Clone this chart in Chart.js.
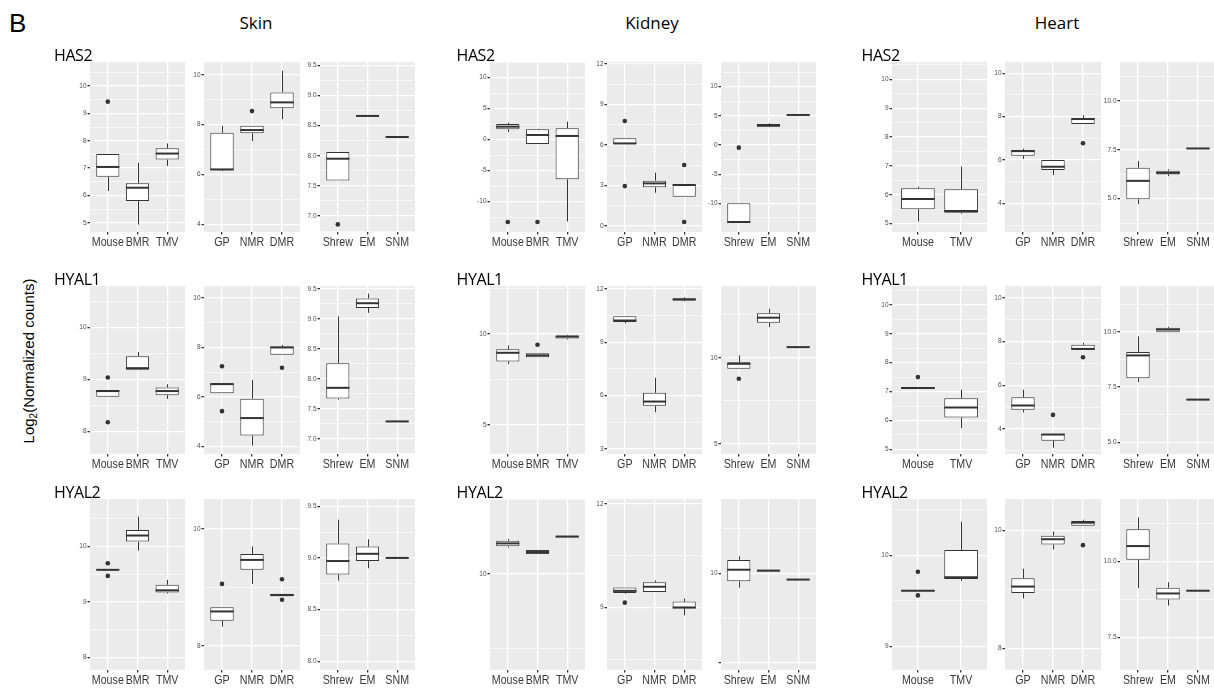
<!DOCTYPE html>
<html>
<head>
<meta charset="utf-8">
<script src="https://cdn.jsdelivr.net/npm/chart.js@4.4.1/dist/chart.umd.min.js"></script>
<style>
  html, body { margin: 0; padding: 0; background: #ffffff; width: 1214px; height: 689px; overflow: hidden; }
  #root { position: relative; width: 1214px; height: 689px; }
  .pw { position: absolute; }
  .pw canvas { display: block; }
  .txt { position: absolute; white-space: nowrap; color: #000; line-height: 1; }
  .tissue { font-family: 'Open Sans', 'Noto Sans', sans-serif; font-size: 17px; transform: translateX(-50%); }
  .gene { font-family: 'Open Sans', 'Noto Sans', sans-serif; font-size: 16px; letter-spacing: -0.4px; }
  .ytitle { font-family: 'Liberation Sans', Arial, sans-serif; font-size: 15px; color: #000; transform: translate(-50%, -50%) rotate(-90deg); }
  .ytitle sub { font-size: 10px; vertical-align: -3px; line-height: 0; }
</style>
</head>
<body>
<div id="root">
  <div class="txt" style="left:9px; top:10px; font-family:'Liberation Sans', Arial, sans-serif; font-size:26px;">B</div>
  <div class="txt tissue" style="left:256px; top:14px;">Skin</div>
  <div class="txt tissue" style="left:652px; top:14px;">Kidney</div>
  <div class="txt tissue" style="left:1057px; top:14px;">Heart</div>
  <div class="txt ytitle" style="left:28px; top:361px;">Log<sub>2</sub>(Normalized counts)</div>
</div>
<script>
// ---------------- categories ----------------
const CATS_ROD   = ['Mouse', 'BMR', 'TMV'];
const CATS_MOLE  = ['GP', 'NMR', 'DMR'];
const CATS_SHREW = ['Shrew', 'EM', 'SNM'];
const CATS_HEART = ['Mouse', 'TMV'];

// box stats per category: [lowerWhisker, Q1, median, Q3, upperWhisker]
// ---------------- Skin · HAS2 ----------------
const SK_HAS2_A_BOX = [[6.16, 6.68, 7.04, 7.51, 7.51], [4.93, 5.79, 6.28, 6.44, 7.19], [7.08, 7.31, 7.53, 7.72, 7.90]];
const SK_HAS2_A_OUT = [['Mouse', 9.43]];
const SK_HAS2_A_TICKS = [5, 6, 7, 8, 9, 10];
const SK_HAS2_A_LABELS = ['5', '6', '7', '8', '9', '10'];
const SK_HAS2_A_RANGE = [4.66, 10.88];

const SK_HAS2_B_BOX = [[6.13, 6.17, 6.20, 7.67, 7.94], [7.34, 7.65, 7.78, 7.95, 7.95], [8.22, 8.65, 8.89, 9.29, 10.16]];
const SK_HAS2_B_OUT = [['NMR', 8.54]];
const SK_HAS2_B_TICKS = [4, 6, 8, 10];
const SK_HAS2_B_LABELS = ['4', '6', '8', '10'];
const SK_HAS2_B_RANGE = [3.69, 10.51];

const SK_HAS2_C_BOX = [[7.59, 7.59, 7.95, 8.06, 8.06], [8.66, 8.66, 8.66, 8.66, 8.66], [8.31, 8.31, 8.31, 8.31, 8.31]];
const SK_HAS2_C_OUT = [['Shrew', 6.86]];
const SK_HAS2_C_TICKS = [7.0, 7.5, 8.0, 8.5, 9.0, 9.5];
const SK_HAS2_C_LABELS = ['7.0', '7.5', '8.0', '8.5', '9.0', '9.5'];
const SK_HAS2_C_RANGE = [6.734, 9.555];

// ---------------- Kidney · HAS2 ----------------
const KI_HAS2_A_BOX = [[1.24, 1.68, 2.10, 2.53, 2.74], [-0.70, -0.70, 0.76, 1.68, 1.77], [-13.2, -6.39, 0.60, 1.84, 2.90]];
const KI_HAS2_A_OUT = [['Mouse', -13.27], ['BMR', -13.27]];
const KI_HAS2_A_TICKS = [-10, -5, 0, 5, 10];
const KI_HAS2_A_LABELS = ['-10', '-5', '0', '5', '10'];
const KI_HAS2_A_RANGE = [-14.89, 12.53];

const KI_HAS2_B_BOX = [[6.07, 6.07, 6.12, 6.50, 6.50], [2.47, 2.87, 3.16, 3.36, 3.95], [2.17, 2.17, 3.04, 3.09, 3.09]];
const KI_HAS2_B_OUT = [['GP', 7.78], ['GP', 2.96], ['DMR', 4.52], ['DMR', 0.30]];
const KI_HAS2_B_TICKS = [0, 3, 6, 9, 12];
const KI_HAS2_B_LABELS = ['0', '3', '6', '9', '12'];
const KI_HAS2_B_RANGE = [-0.44, 12.15];

const KI_HAS2_C_BOX = [[-13.2, -13.2, -13.2, -10.0, -10.0], [3.05, 3.15, 3.35, 3.60, 3.70], [5.15, 5.15, 5.15, 5.15, 5.15]];
const KI_HAS2_C_OUT = [['Shrew', -0.45]];
const KI_HAS2_C_TICKS = [-10, -5, 0, 5, 10];
const KI_HAS2_C_LABELS = ['-10', '-5', '0', '5', '10'];
const KI_HAS2_C_RANGE = [-14.91, 14.23];

// ---------------- Heart · HAS2 ----------------
const HE_HAS2_A_BOX = [[5.07, 5.50, 5.85, 6.23, 6.28], [5.34, 5.38, 5.44, 6.19, 6.98]];
const HE_HAS2_A_OUT = [];
const HE_HAS2_A_TICKS = [5, 6, 7, 8, 9, 10];
const HE_HAS2_A_LABELS = ['5', '6', '7', '8', '9', '10'];
const HE_HAS2_A_RANGE = [4.71, 10.60];

const HE_HAS2_B_BOX = [[6.05, 6.20, 6.41, 6.46, 6.52], [5.31, 5.54, 5.69, 6.00, 6.00], [7.66, 7.66, 7.89, 7.92, 8.06]];
const HE_HAS2_B_OUT = [['DMR', 6.77]];
const HE_HAS2_B_TICKS = [4, 6, 8, 10];
const HE_HAS2_B_LABELS = ['4', '6', '8', '10'];
const HE_HAS2_B_RANGE = [2.68, 10.52];

const HE_HAS2_C_BOX = [[4.72, 4.97, 5.91, 6.58, 6.92], [6.15, 6.24, 6.32, 6.43, 6.50], [7.57, 7.57, 7.57, 7.57, 7.57]];
const HE_HAS2_C_OUT = [];
const HE_HAS2_C_TICKS = [5.0, 7.5, 10.0];
const HE_HAS2_C_LABELS = ['5.0', '7.5', '10.0'];
const HE_HAS2_C_RANGE = [3.29, 12.00];

// ---------------- Skin · HYAL1 ----------------
const SK_HYAL1_A_BOX = [[8.67, 8.67, 8.78, 8.80, 8.80], [9.19, 9.19, 9.22, 9.45, 9.53], [8.63, 8.70, 8.78, 8.85, 8.91]];
const SK_HYAL1_A_OUT = [['Mouse', 9.04], ['Mouse', 8.18]];
const SK_HYAL1_A_TICKS = [8, 9, 10];
const SK_HYAL1_A_LABELS = ['8', '9', '10'];
const SK_HYAL1_A_RANGE = [7.57, 10.80];

const SK_HYAL1_B_BOX = [[6.15, 6.15, 6.52, 6.56, 6.56], [4.04, 4.45, 5.15, 5.93, 6.69], [7.71, 7.71, 8.00, 8.04, 8.10]];
const SK_HYAL1_B_OUT = [['GP', 7.24], ['GP', 5.43], ['DMR', 7.18]];
const SK_HYAL1_B_TICKS = [4, 6, 8, 10];
const SK_HYAL1_B_LABELS = ['4', '6', '8', '10'];
const SK_HYAL1_B_RANGE = [3.70, 10.48];

const SK_HYAL1_C_BOX = [[7.65, 7.67, 7.85, 8.26, 9.04], [9.10, 9.18, 9.26, 9.34, 9.42], [7.29, 7.29, 7.29, 7.29, 7.29]];
const SK_HYAL1_C_OUT = [];
const SK_HYAL1_C_TICKS = [7.0, 7.5, 8.0, 8.5, 9.0, 9.5];
const SK_HYAL1_C_LABELS = ['7.0', '7.5', '8.0', '8.5', '9.0', '9.5'];
const SK_HYAL1_C_RANGE = [6.747, 9.547];

// ---------------- Kidney · HYAL1 ----------------
const KI_HYAL1_A_BOX = [[8.35, 8.48, 8.96, 9.15, 9.36], [8.71, 8.71, 8.82, 8.93, 8.93], [9.69, 9.74, 9.85, 9.91, 9.95]];
const KI_HYAL1_A_OUT = [['BMR', 9.40]];
const KI_HYAL1_A_TICKS = [5, 10];
const KI_HYAL1_A_LABELS = ['5', '10'];
const KI_HYAL1_A_RANGE = [3.40, 12.63];

const KI_HYAL1_B_BOX = [[10.06, 10.14, 10.22, 10.46, 10.46], [5.06, 5.43, 5.66, 6.15, 6.99], [11.29, 11.34, 11.40, 11.47, 11.53]];
const KI_HYAL1_B_OUT = [];
const KI_HYAL1_B_TICKS = [3, 6, 9, 12];
const KI_HYAL1_B_LABELS = ['3', '6', '9', '12'];
const KI_HYAL1_B_RANGE = [2.71, 12.16];

const KI_HYAL1_C_BOX = [[9.36, 9.36, 9.65, 9.74, 10.13], [11.78, 12.03, 12.33, 12.59, 12.85], [10.62, 10.62, 10.62, 10.62, 10.62]];
const KI_HYAL1_C_OUT = [['Shrew', 8.78]];
const KI_HYAL1_C_TICKS = [5, 10];
const KI_HYAL1_C_LABELS = ['5', '10'];
const KI_HYAL1_C_RANGE = [4.41, 14.17];

// ---------------- Heart · HYAL1 ----------------
const HE_HYAL1_A_BOX = [[7.10, 7.10, 7.12, 7.15, 7.15], [5.74, 6.10, 6.45, 6.77, 7.06]];
const HE_HYAL1_A_OUT = [['Mouse', 7.50]];
const HE_HYAL1_A_TICKS = [5, 6, 7, 8, 9, 10];
const HE_HYAL1_A_LABELS = ['5', '6', '7', '8', '9', '10'];
const HE_HYAL1_A_RANGE = [4.84, 10.65];

const HE_HYAL1_B_BOX = [[4.76, 4.88, 5.07, 5.45, 5.79], [3.13, 3.46, 3.74, 3.77, 3.77], [7.62, 7.62, 7.66, 7.85, 7.94]];
const HE_HYAL1_B_OUT = [['NMR', 4.64], ['DMR', 7.28]];
const HE_HYAL1_B_TICKS = [4, 6, 8, 10];
const HE_HYAL1_B_LABELS = ['4', '6', '8', '10'];
const HE_HYAL1_B_RANGE = [2.85, 10.54];

const HE_HYAL1_C_BOX = [[7.72, 7.90, 8.93, 9.08, 9.79], [9.98, 9.98, 10.10, 10.18, 10.23], [6.93, 6.93, 6.93, 6.93, 6.93]];
const HE_HYAL1_C_OUT = [];
const HE_HYAL1_C_TICKS = [5.0, 7.5, 10.0];
const HE_HYAL1_C_LABELS = ['5.0', '7.5', '10.0'];
const HE_HYAL1_C_RANGE = [4.47, 12.07];

// ---------------- Skin · HYAL2 ----------------
const SK_HYAL2_A_BOX = [[9.58, 9.58, 9.58, 9.58, 9.58], [9.93, 10.09, 10.20, 10.30, 10.54], [9.15, 9.17, 9.21, 9.31, 9.40]];
const SK_HYAL2_A_OUT = [['Mouse', 9.70], ['Mouse', 9.47]];
const SK_HYAL2_A_TICKS = [8, 9, 10];
const SK_HYAL2_A_LABELS = ['8', '9', '10'];
const SK_HYAL2_A_RANGE = [7.77, 10.86];

const SK_HYAL2_B_BOX = [[8.33, 8.43, 8.59, 8.66, 8.66], [9.06, 9.30, 9.47, 9.57, 9.70], [8.85, 8.85, 8.87, 8.89, 8.89]];
const SK_HYAL2_B_OUT = [['GP', 9.06], ['DMR', 9.14], ['DMR', 8.79]];
const SK_HYAL2_B_TICKS = [8, 10];
const SK_HYAL2_B_LABELS = ['8', '10'];
const SK_HYAL2_B_RANGE = [7.59, 10.51];

const SK_HYAL2_C_BOX = [[8.78, 8.84, 8.97, 9.14, 9.37], [8.90, 8.97, 9.04, 9.11, 9.18], [9.00, 9.00, 9.00, 9.00, 9.00]];
const SK_HYAL2_C_OUT = [];
const SK_HYAL2_C_TICKS = [8.0, 8.5, 9.0, 9.5];
const SK_HYAL2_C_LABELS = ['8.0', '8.5', '9.0', '9.5'];
const SK_HYAL2_C_RANGE = [7.916, 9.57];

// ---------------- Kidney · HYAL2 ----------------
const KI_HYAL2_A_BOX = [[10.89, 10.93, 11.03, 11.12, 11.18], [10.67, 10.67, 10.74, 10.81, 10.81], [11.23, 11.23, 11.26, 11.28, 11.28]];
const KI_HYAL2_A_OUT = [];
const KI_HYAL2_A_TICKS = [5, 10, 15];
const KI_HYAL2_A_LABELS = ['5', '10', '15'];
const KI_HYAL2_A_RANGE = [6.78, 12.52];

const KI_HYAL2_B_BOX = [[9.40, 9.42, 9.48, 9.58, 9.58], [9.45, 9.45, 9.60, 9.73, 9.78], [8.77, 8.97, 9.00, 9.17, 9.26]];
const KI_HYAL2_B_OUT = [['GP', 9.14]];
const KI_HYAL2_B_TICKS = [6, 9, 12];
const KI_HYAL2_B_LABELS = ['6', '9', '12'];
const KI_HYAL2_B_RANGE = [7.19, 12.14];

const KI_HYAL2_C_BOX = [[9.84, 9.91, 10.04, 10.15, 10.19], [10.02, 10.02, 10.03, 10.04, 10.04], [9.93, 9.93, 9.93, 9.93, 9.93]];
const KI_HYAL2_C_OUT = [];
const KI_HYAL2_C_TICKS = [9, 10, 11];
const KI_HYAL2_C_LABELS = ['', '10', '11'];
const KI_HYAL2_C_RANGE = [8.92, 10.83];

// ---------------- Heart · HYAL2 ----------------
const HE_HYAL2_A_BOX = [[9.61, 9.61, 9.61, 9.61, 9.61], [9.72, 9.74, 9.76, 10.06, 10.37]];
const HE_HYAL2_A_OUT = [['Mouse', 9.82], ['Mouse', 9.56]];
const HE_HYAL2_A_TICKS = [9, 10];
const HE_HYAL2_A_LABELS = ['9', '10'];
const HE_HYAL2_A_RANGE = [8.74, 10.62];

const HE_HYAL2_B_BOX = [[8.85, 8.94, 9.05, 9.19, 9.35], [9.68, 9.76, 9.85, 9.91, 9.98], [10.08, 10.08, 10.13, 10.16, 10.18]];
const HE_HYAL2_B_OUT = [['DMR', 9.75]];
const HE_HYAL2_B_TICKS = [8, 10];
const HE_HYAL2_B_LABELS = ['8', '10'];
const HE_HYAL2_B_RANGE = [7.64, 10.53];

const HE_HYAL2_C_BOX = [[9.13, 10.06, 10.51, 11.06, 11.45], [8.55, 8.75, 8.95, 9.14, 9.32], [9.04, 9.04, 9.04, 9.04, 9.04]];
const HE_HYAL2_C_OUT = [];
const HE_HYAL2_C_TICKS = [7.5, 10.0];
const HE_HYAL2_C_LABELS = ['7.5', '10.0'];
const HE_HYAL2_C_RANGE = [6.43, 12.06];

const GENES = ['HAS2', 'HYAL1', 'HYAL2'];

// ---------------- layout (pixels) ----------------
const COL_X = {
  SK: [[90, 185], [204, 299.5], [320, 415]],
  KI: [[489.5, 584], [607, 702], [720.5, 815.5]],
  HE: [[891.7, 987], [1004.5, 1100.5], [1120, 1216]]
};
const ROW_Y = { HAS2: [62, 232], HYAL1: [285.5, 453.5], HYAL2: [498.5, 669] };
const GENE_LABEL_X = { SK: 54, KI: 456.5, HE: 861.5 };
const GENE_LABEL_TOP = { HAS2: 46.5, HYAL1: 270.5, HYAL2: 484 };

const YW = 30, PR = 8, PT = 8, XH = 20;
const INK = '#333333';
const PANEL_BG = '#EBEBEB';
const XLAB_FONT = "13px 'Liberation Sans', Arial, sans-serif";
const XLAB_SQUEEZE = 0.82;

const root = document.getElementById('root');

const bgPlugin = {
  id: 'panelBg',
  beforeDraw(chart) {
    const a = chart.chartArea, ctx = chart.ctx;
    ctx.save();
    ctx.fillStyle = PANEL_BG;
    ctx.fillRect(a.left, a.top, a.right - a.left, a.bottom - a.top);
    ctx.restore();
  }
};

// draws the category labels of the x scale at the scale's own tick positions, in a narrow face
const xLabelPlugin = {
  id: 'narrowXLabels',
  afterDraw(chart) {
    const xs = chart.scales.x, ctx = chart.ctx, labels = xs.getLabels();
    ctx.save();
    ctx.fillStyle = '#3A3A3A';
    ctx.font = XLAB_FONT;
    ctx.textAlign = 'center';
    ctx.textBaseline = 'middle';
    xs.ticks.forEach((t, i) => {
      const x = xs.getPixelForTick(i);
      const y = xs.top + 10.5;
      ctx.save();
      ctx.translate(x, y);
      ctx.scale(XLAB_SQUEEZE, 1);
      ctx.fillText(labels[t.value], 0, 0);
      ctx.restore();
    });
    ctx.restore();
  }
};

const boxPlugin = {
  id: 'boxStats',
  beforeDatasetsDraw(chart, args, opts) {
    const stats = opts.stats, y = chart.scales.y, meta = chart.getDatasetMeta(0), a = chart.chartArea;
    const ctx = chart.ctx;
    ctx.save();
    ctx.beginPath(); ctx.rect(a.left, a.top, a.right - a.left, a.bottom - a.top); ctx.clip();
    ctx.strokeStyle = INK; ctx.lineWidth = 1;
    stats.forEach((s, i) => {
      const el = meta.data[i]; if (!el) return;
      const x = Math.round(el.x) + 0.5;
      ctx.beginPath();
      ctx.moveTo(x, y.getPixelForValue(s[3])); ctx.lineTo(x, y.getPixelForValue(s[4]));
      ctx.moveTo(x, y.getPixelForValue(s[1])); ctx.lineTo(x, y.getPixelForValue(s[0]));
      ctx.stroke();
    });
    ctx.restore();
  },
  afterDatasetDraw(chart, args, opts) {
    if (args.index !== 0) return;
    const stats = opts.stats, y = chart.scales.y, meta = chart.getDatasetMeta(0), a = chart.chartArea;
    const ctx = chart.ctx;
    ctx.save();
    ctx.beginPath(); ctx.rect(a.left, a.top, a.right - a.left, a.bottom - a.top); ctx.clip();
    ctx.strokeStyle = INK; ctx.lineWidth = 2;
    stats.forEach((s, i) => {
      const el = meta.data[i]; if (!el) return;
      const half = el.width / 2, py = y.getPixelForValue(s[2]);
      ctx.beginPath(); ctx.moveTo(el.x - half, py); ctx.lineTo(el.x + half, py); ctx.stroke();
    });
    ctx.restore();
  }
};

function makePanel(tissue, gene, idx, cats, box, out, ticks, labels, range) {
  const [l, r] = COL_X[tissue][idx];
  const [t, b] = ROW_Y[gene];
  const W = Math.round(r - l + YW + PR), H = Math.round(b - t + PT + XH);
  const wrap = document.createElement('div');
  wrap.className = 'pw';
  wrap.style.left = (l - YW) + 'px';
  wrap.style.top = (t - PT) + 'px';
  wrap.style.width = W + 'px';
  wrap.style.height = H + 'px';
  const cv = document.createElement('canvas');
  cv.width = W; cv.height = H;
  cv.style.width = W + 'px'; cv.style.height = H + 'px';
  wrap.appendChild(cv);
  root.appendChild(wrap);

  const step = ticks.length > 1 ? ticks[1] - ticks[0] : 1;
  const n = cats.length;

  new Chart(cv, {
    type: 'bar',
    data: {
      labels: cats,
      datasets: [
        {
          type: 'bar',
          data: box.map(s => [s[1], s[3]]),
          backgroundColor: '#FFFFFF',
          borderColor: INK,
          borderWidth: 1,
          borderSkipped: false,
          categoryPercentage: 0.78,
          barPercentage: 1.0
        },
        {
          type: 'scatter',
          data: out.map(o => ({ x: o[0], y: o[1] })),
          pointRadius: 2.3,
          pointBackgroundColor: INK,
          pointBorderColor: INK,
          pointBorderWidth: 0
        }
      ]
    },
    options: {
      responsive: false,
      animation: false,
      events: [],
      devicePixelRatio: 1,
      layout: { padding: { top: PT, right: PR, left: 0, bottom: 0 } },
      plugins: {
        legend: { display: false },
        tooltip: { enabled: false },
        boxStats: { stats: box }
      },
      scales: {
        x: {
          type: 'category',
          offset: false,
          grid: { offset: false, color: '#FFFFFF', lineWidth: 1.3, tickColor: INK, tickLength: 2.5, drawOnChartArea: true },
          border: { display: false },
          ticks: {
            color: 'rgba(0,0,0,0)',
            font: { family: "'Liberation Sans', Arial, sans-serif", size: 10 },
            padding: 1, maxRotation: 0, minRotation: 0, autoSkip: false
          },
          afterBuildTicks(s) { s._startValue = -0.6; s._valueRange = n - 1 + 1.2; },
          afterFit(s) { s.height = XH; }
        },
        y: {
          type: 'linear',
          min: range[0],
          max: range[1],
          grid: {
            color: '#FFFFFF',
            lineWidth: c => (c.tick && c.tick.isMinor) ? 0.6 : 1.3,
            tickColor: c => (c.tick && c.tick.isMinor) ? 'rgba(0,0,0,0)' : INK,
            tickLength: 2.5
          },
          border: { display: false },
          ticks: {
            color: '#4D4D4D',
            font: { family: "'Liberation Sans', Arial, sans-serif", size: 6.5 },
            padding: 1,
            autoSkip: false,
            callback: (v, i, tk) => tk[i].lab
          },
          afterBuildTicks(s) {
            const lo = range[0], hi = range[1];
            const list = [];
            ticks.forEach((v, i) => { if (v >= lo && v <= hi) list.push({ value: v, lab: labels[i], isMinor: false }); });
            const minors = new Set();
            ticks.forEach(v => { minors.add(+(v - step / 2).toFixed(6)); minors.add(+(v + step / 2).toFixed(6)); });
            minors.forEach(m => { if (m >= lo && m <= hi) list.push({ value: m, lab: '', isMinor: true }); });
            s.ticks = list;
          },
          afterFit(s) { s.width = YW; }
        }
      }
    },
    plugins: [bgPlugin, boxPlugin, xLabelPlugin]
  });
}

function geneLabel(tissue, gene) {
  const d = document.createElement('div');
  d.className = 'txt gene';
  d.style.left = GENE_LABEL_X[tissue] + 'px';
  d.style.top = GENE_LABEL_TOP[gene] + 'px';
  d.textContent = gene;
  root.appendChild(d);
}

// HAS2
makePanel('SK', 'HAS2', 0, CATS_ROD, SK_HAS2_A_BOX, SK_HAS2_A_OUT, SK_HAS2_A_TICKS, SK_HAS2_A_LABELS, SK_HAS2_A_RANGE);
makePanel('SK', 'HAS2', 1, CATS_MOLE, SK_HAS2_B_BOX, SK_HAS2_B_OUT, SK_HAS2_B_TICKS, SK_HAS2_B_LABELS, SK_HAS2_B_RANGE);
makePanel('SK', 'HAS2', 2, CATS_SHREW, SK_HAS2_C_BOX, SK_HAS2_C_OUT, SK_HAS2_C_TICKS, SK_HAS2_C_LABELS, SK_HAS2_C_RANGE);
makePanel('KI', 'HAS2', 0, CATS_ROD, KI_HAS2_A_BOX, KI_HAS2_A_OUT, KI_HAS2_A_TICKS, KI_HAS2_A_LABELS, KI_HAS2_A_RANGE);
makePanel('KI', 'HAS2', 1, CATS_MOLE, KI_HAS2_B_BOX, KI_HAS2_B_OUT, KI_HAS2_B_TICKS, KI_HAS2_B_LABELS, KI_HAS2_B_RANGE);
makePanel('KI', 'HAS2', 2, CATS_SHREW, KI_HAS2_C_BOX, KI_HAS2_C_OUT, KI_HAS2_C_TICKS, KI_HAS2_C_LABELS, KI_HAS2_C_RANGE);
makePanel('HE', 'HAS2', 0, CATS_HEART, HE_HAS2_A_BOX, HE_HAS2_A_OUT, HE_HAS2_A_TICKS, HE_HAS2_A_LABELS, HE_HAS2_A_RANGE);
makePanel('HE', 'HAS2', 1, CATS_MOLE, HE_HAS2_B_BOX, HE_HAS2_B_OUT, HE_HAS2_B_TICKS, HE_HAS2_B_LABELS, HE_HAS2_B_RANGE);
makePanel('HE', 'HAS2', 2, CATS_SHREW, HE_HAS2_C_BOX, HE_HAS2_C_OUT, HE_HAS2_C_TICKS, HE_HAS2_C_LABELS, HE_HAS2_C_RANGE);
// HYAL1
makePanel('SK', 'HYAL1', 0, CATS_ROD, SK_HYAL1_A_BOX, SK_HYAL1_A_OUT, SK_HYAL1_A_TICKS, SK_HYAL1_A_LABELS, SK_HYAL1_A_RANGE);
makePanel('SK', 'HYAL1', 1, CATS_MOLE, SK_HYAL1_B_BOX, SK_HYAL1_B_OUT, SK_HYAL1_B_TICKS, SK_HYAL1_B_LABELS, SK_HYAL1_B_RANGE);
makePanel('SK', 'HYAL1', 2, CATS_SHREW, SK_HYAL1_C_BOX, SK_HYAL1_C_OUT, SK_HYAL1_C_TICKS, SK_HYAL1_C_LABELS, SK_HYAL1_C_RANGE);
makePanel('KI', 'HYAL1', 0, CATS_ROD, KI_HYAL1_A_BOX, KI_HYAL1_A_OUT, KI_HYAL1_A_TICKS, KI_HYAL1_A_LABELS, KI_HYAL1_A_RANGE);
makePanel('KI', 'HYAL1', 1, CATS_MOLE, KI_HYAL1_B_BOX, KI_HYAL1_B_OUT, KI_HYAL1_B_TICKS, KI_HYAL1_B_LABELS, KI_HYAL1_B_RANGE);
makePanel('KI', 'HYAL1', 2, CATS_SHREW, KI_HYAL1_C_BOX, KI_HYAL1_C_OUT, KI_HYAL1_C_TICKS, KI_HYAL1_C_LABELS, KI_HYAL1_C_RANGE);
makePanel('HE', 'HYAL1', 0, CATS_HEART, HE_HYAL1_A_BOX, HE_HYAL1_A_OUT, HE_HYAL1_A_TICKS, HE_HYAL1_A_LABELS, HE_HYAL1_A_RANGE);
makePanel('HE', 'HYAL1', 1, CATS_MOLE, HE_HYAL1_B_BOX, HE_HYAL1_B_OUT, HE_HYAL1_B_TICKS, HE_HYAL1_B_LABELS, HE_HYAL1_B_RANGE);
makePanel('HE', 'HYAL1', 2, CATS_SHREW, HE_HYAL1_C_BOX, HE_HYAL1_C_OUT, HE_HYAL1_C_TICKS, HE_HYAL1_C_LABELS, HE_HYAL1_C_RANGE);
// HYAL2
makePanel('SK', 'HYAL2', 0, CATS_ROD, SK_HYAL2_A_BOX, SK_HYAL2_A_OUT, SK_HYAL2_A_TICKS, SK_HYAL2_A_LABELS, SK_HYAL2_A_RANGE);
makePanel('SK', 'HYAL2', 1, CATS_MOLE, SK_HYAL2_B_BOX, SK_HYAL2_B_OUT, SK_HYAL2_B_TICKS, SK_HYAL2_B_LABELS, SK_HYAL2_B_RANGE);
makePanel('SK', 'HYAL2', 2, CATS_SHREW, SK_HYAL2_C_BOX, SK_HYAL2_C_OUT, SK_HYAL2_C_TICKS, SK_HYAL2_C_LABELS, SK_HYAL2_C_RANGE);
makePanel('KI', 'HYAL2', 0, CATS_ROD, KI_HYAL2_A_BOX, KI_HYAL2_A_OUT, KI_HYAL2_A_TICKS, KI_HYAL2_A_LABELS, KI_HYAL2_A_RANGE);
makePanel('KI', 'HYAL2', 1, CATS_MOLE, KI_HYAL2_B_BOX, KI_HYAL2_B_OUT, KI_HYAL2_B_TICKS, KI_HYAL2_B_LABELS, KI_HYAL2_B_RANGE);
makePanel('KI', 'HYAL2', 2, CATS_SHREW, KI_HYAL2_C_BOX, KI_HYAL2_C_OUT, KI_HYAL2_C_TICKS, KI_HYAL2_C_LABELS, KI_HYAL2_C_RANGE);
makePanel('HE', 'HYAL2', 0, CATS_HEART, HE_HYAL2_A_BOX, HE_HYAL2_A_OUT, HE_HYAL2_A_TICKS, HE_HYAL2_A_LABELS, HE_HYAL2_A_RANGE);
makePanel('HE', 'HYAL2', 1, CATS_MOLE, HE_HYAL2_B_BOX, HE_HYAL2_B_OUT, HE_HYAL2_B_TICKS, HE_HYAL2_B_LABELS, HE_HYAL2_B_RANGE);
makePanel('HE', 'HYAL2', 2, CATS_SHREW, HE_HYAL2_C_BOX, HE_HYAL2_C_OUT, HE_HYAL2_C_TICKS, HE_HYAL2_C_LABELS, HE_HYAL2_C_RANGE);

['SK', 'KI', 'HE'].forEach(t => GENES.forEach(g => geneLabel(t, g)));
</script>
</body>
</html>
